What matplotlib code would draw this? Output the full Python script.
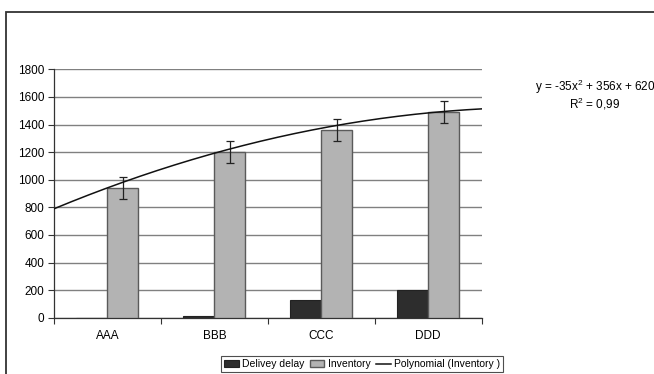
import numpy as np
import matplotlib
matplotlib.use("Agg")
import matplotlib.pyplot as plt
from matplotlib.patches import Rectangle

plt.rcParams['font.family'] = ['Liberation Sans', 'DejaVu Sans']
plt.rcParams['font.size'] = 8.5
plt.rcParams['mathtext.fontset'] = 'custom'
plt.rcParams['mathtext.rm'] = 'Liberation Sans'
plt.rcParams['mathtext.it'] = 'Liberation Sans'

# data
categories = ["AAA", "BBB", "CCC", "DDD"]
delivery_delay = [0, 10, 130, 200]
inventory = [937, 1200, 1362, 1492]
inventory_err = [80, 80, 80, 80]
trend_coef = [-35, 356, 620]   # from the trendline equation
y_ticks = [0, 200, 400, 600, 800, 1000, 1200, 1400, 1600, 1800]

fig = plt.figure(figsize=(6.54, 3.74), dpi=100)
ax = fig.add_axes([54 / 654, 1 - 317.7 / 374, (481.7 - 54) / 654, (317.7 - 69.3) / 374])

x = np.arange(1, len(categories) + 1)
w = 0.29

b1 = ax.bar(x - w / 2, delivery_delay, w, color="#2d2d2d", edgecolor="#222222",
            linewidth=0.8, label="Delivey delay", zorder=3)
b2 = ax.bar(x + w / 2, inventory, w, color="#b3b3b3", edgecolor="#5a5a5a",
            linewidth=1.0, label="Inventory", zorder=3)
ax.errorbar(x + w / 2, inventory, yerr=inventory_err, fmt="none", ecolor="#222222",
            elinewidth=0.9, capsize=2.6, capthick=0.9, zorder=4)

# polynomial trendline (order 2) over full category span
xt = np.linspace(0.5, 4.5, 200)
ln, = ax.plot(xt, np.polyval(trend_coef, xt), color="#111111", linewidth=1.1,
              label="Polynomial (Inventory )", zorder=5)

ax.set_xlim(0.5, 4.5)
ax.set_ylim(0, 1800)
ax.set_yticks(y_ticks)
ax.yaxis.grid(True, color="#808080", linewidth=1.0, zorder=0)
ax.set_axisbelow(True)

ax.set_xticks(np.arange(0.5, 4.6, 1))
ax.set_xticklabels([])
ax.set_xticks(x, minor=True)
ax.set_xticklabels(categories, minor=True)
ax.tick_params(axis="x", which="major", length=4, width=0.8, color="#333333")
ax.tick_params(axis="x", which="minor", length=0, pad=9)
ax.tick_params(axis="y", length=4, width=0.8, color="#333333", pad=3)

for s in ["top", "right"]:
    ax.spines[s].set_visible(False)
for s in ["left", "bottom"]:
    ax.spines[s].set_color("#333333")
    ax.spines[s].set_linewidth(0.9)

# trendline equation
fig.text(595 / 654, 1 - 87 / 374, "y = -35x$^{2}$ + 356x + 620", ha="center", va="center")
fig.text(595 / 654, 1 - 104 / 374, "R$^{2}$ = 0,99", ha="center", va="center")

# outer chart frame (cropped on right and bottom)
fig.patches.append(Rectangle((6 / 654, -0.1), 1.1, 1 - 12 / 374 + 0.1,
                             transform=fig.transFigure, fill=False,
                             edgecolor="#333333", linewidth=1.3))

leg = fig.legend([b1, b2, ln], ["Delivey delay", "Inventory", "Polynomial (Inventory )"],
                 loc="center", bbox_to_anchor=(362 / 654, 1 - 364 / 374), ncol=3,
                 frameon=True, fancybox=False, edgecolor="#222222",
                 handlelength=1.4, handleheight=0.6, handletextpad=0.3,
                 columnspacing=0.55, borderpad=0.25, borderaxespad=0, fontsize=7.5)
leg.get_frame().set_linewidth(0.8)

fig.savefig("out.png", dpi=100)
